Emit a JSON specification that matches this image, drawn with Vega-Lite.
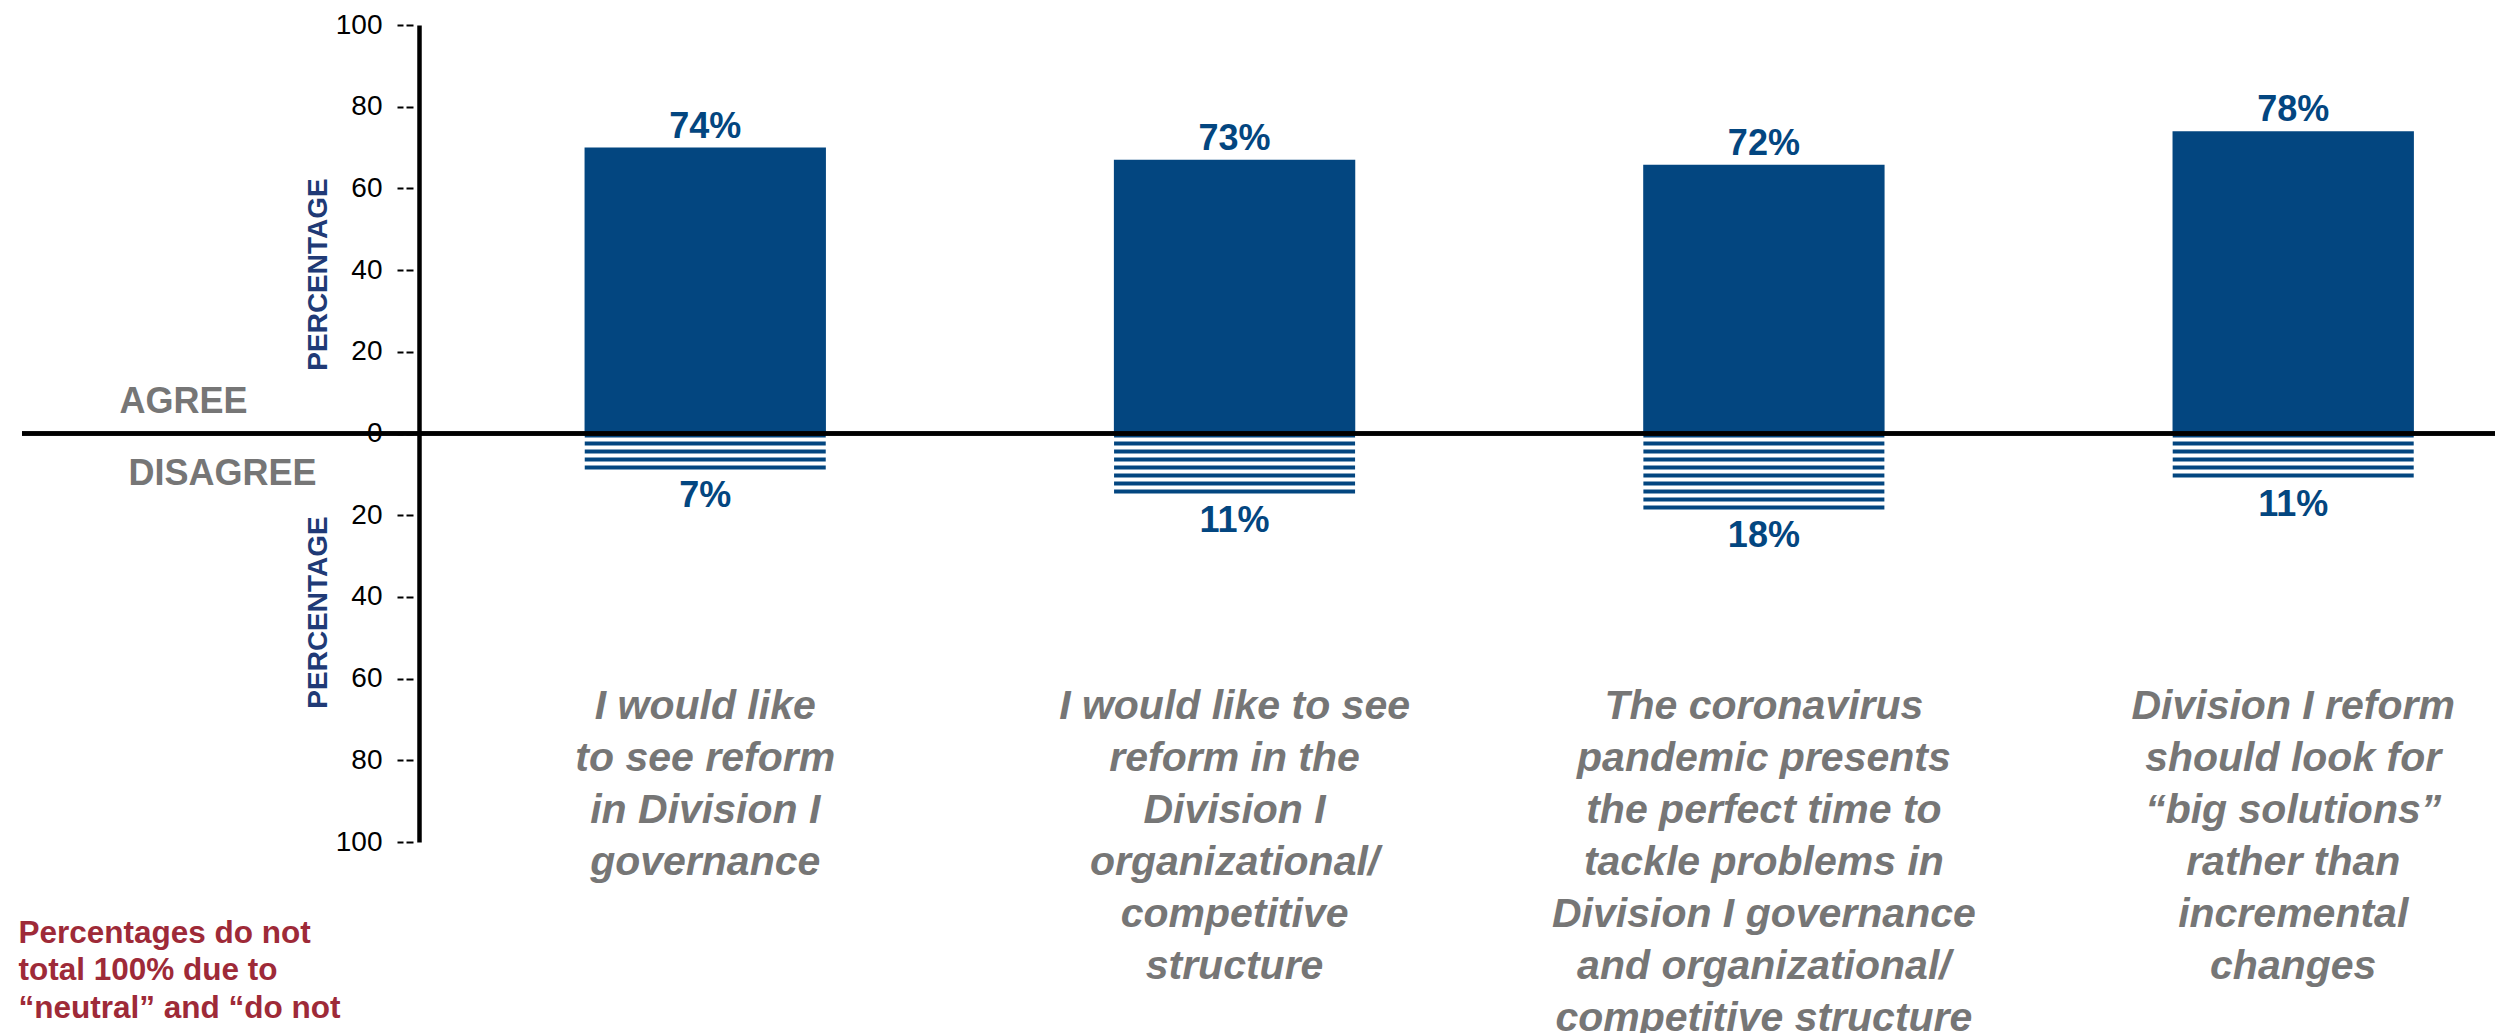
{
  "$schema": "https://vega.github.io/schema/vega-lite/v6.json",
  "width": 2473,
  "height": 817,
  "autosize": {"type": "none"},
  "padding": {"left": 22, "top": 25, "right": 0, "bottom": 191},
  "config": {"font": "Liberation Sans", "view": {"stroke": null}},
  "data": {
    "values": [
      {"cat": "I would like|to see reform|in Division I|governance", "agree": 70, "agree_label": "74%", "disagree": -8.8, "disagree_label": "7%"},
      {"cat": "I would like to see|reform in the|Division I|organizational/|competitive|structure", "agree": 67, "agree_label": "73%", "disagree": -14.7, "disagree_label": "11%"},
      {"cat": "The coronavirus|pandemic presents|the perfect time to|tackle problems in|Division I governance|and organizational/|competitive structure", "agree": 65.8, "agree_label": "72%", "disagree": -18.6, "disagree_label": "18%"},
      {"cat": "Division I reform|should look for|“big solutions”|rather than|incremental|changes", "agree": 74, "agree_label": "78%", "disagree": -10.8, "disagree_label": "11%"}
    ]
  },
  "layer": [
    {
      "mark": {"type": "bar", "color": "#034680"},
      "encoding": {
        "x": {"field": "cat", "type": "nominal", "sort": null,
          "scale": {"paddingInner": 0.544, "paddingOuter": 0.608, "align": 0.874},
          "axis": {"orient": "bottom", "offset": -124, "title": null, "domain": false, "ticks": false, "tickSize": 0, "labelPadding": 0, "labelAngle": 0, "labelAlign": "center", "labelBaseline": "alphabetic", "labelExpr": "split(datum.label, '|')", "labelFontSize": 41, "labelFontWeight": "bold", "labelFontStyle": "italic", "labelColor": "#767676", "labelLineHeight": 52, "labelLimit": 800, "labelOverlap": false, "grid": false}},
        "y": {"field": "agree", "type": "quantitative", "scale": {"domain": [-100, 100], "nice": false},
          "axis": {"orient": "left", "offset": -397, "values": [-100, -80, -60, -40, -20, 0, 20, 40, 60, 80, 100], "labelExpr": "format(abs(datum.value), 'd')", "labelFontSize": 28, "labelColor": "#000000", "labelPadding": 15, "labelFlush": false, "labelOverlap": false, "tickSize": 22, "tickDash": [0, 6, 7, 3, 6, 0], "tickWidth": 2, "tickColor": "#000000", "domainColor": "#000000", "domainWidth": 4.5, "grid": false, "title": "PERCENTAGE", "titleFontSize": 28, "titleFontWeight": "bold", "titleColor": "#203A76", "titleAngle": 270, "titleAlign": "center", "titleBaseline": "middle", "titleX": -101, "titleY": 249, "titleLimit": 1000, "zindex": 1}}
      }
    },
    {
      "mark": {"type": "rule", "color": "#034680", "strokeWidth": 241, "strokeDash": [4, 4], "strokeCap": "butt"},
      "encoding": {
        "x": {"field": "cat", "type": "nominal", "sort": null,
          "scale": {"paddingInner": 0.544, "paddingOuter": 0.608, "align": 0.874},
          "axis": {"orient": "bottom", "offset": -124, "title": null, "domain": false, "ticks": false, "tickSize": 0, "labelPadding": 0, "labelAngle": 0, "labelAlign": "center", "labelBaseline": "alphabetic", "labelExpr": "split(datum.label, '|')", "labelFontSize": 41, "labelFontWeight": "bold", "labelFontStyle": "italic", "labelColor": "#767676", "labelLineHeight": 52, "labelLimit": 800, "labelOverlap": false, "grid": false}},
        "y": {"field": "disagree", "type": "quantitative",
          "axis": {"orient": "left", "offset": -397, "domain": false, "ticks": false, "labels": false, "grid": false, "title": "PERCENTAGE", "titleFontSize": 28, "titleFontWeight": "bold", "titleColor": "#203A76", "titleAngle": 270, "titleAlign": "center", "titleBaseline": "middle", "titleX": -101, "titleY": 587, "titleLimit": 1000}},
        "y2": {"datum": 0}
      }
    },
    {
      "mark": {"type": "text", "dy": -10, "baseline": "alphabetic", "align": "center", "fontSize": 36, "fontWeight": "bold", "color": "#034680"},
      "encoding": {
        "x": {"field": "cat", "type": "nominal", "sort": null,
          "scale": {"paddingInner": 0.544, "paddingOuter": 0.608, "align": 0.874},
          "axis": {"orient": "bottom", "offset": -124, "title": null, "domain": false, "ticks": false, "tickSize": 0, "labelPadding": 0, "labelAngle": 0, "labelAlign": "center", "labelBaseline": "alphabetic", "labelExpr": "split(datum.label, '|')", "labelFontSize": 41, "labelFontWeight": "bold", "labelFontStyle": "italic", "labelColor": "#767676", "labelLineHeight": 52, "labelLimit": 800, "labelOverlap": false, "grid": false}},
        "y": {"field": "agree", "type": "quantitative",
          "axis": {"orient": "left", "offset": -397, "domain": false, "ticks": false, "labels": false, "grid": false, "title": "AGREE", "titleFontSize": 36, "titleFontWeight": "bold", "titleColor": "#767676", "titleAngle": 0, "titleAlign": "center", "titleBaseline": "alphabetic", "titleX": -236, "titleY": 387, "titleLimit": 1000}},
        "text": {"field": "agree_label", "type": "nominal"}
      }
    },
    {
      "mark": {"type": "text", "dy": 38, "baseline": "alphabetic", "align": "center", "fontSize": 36, "fontWeight": "bold", "color": "#034680"},
      "encoding": {
        "x": {"field": "cat", "type": "nominal", "sort": null,
          "scale": {"paddingInner": 0.544, "paddingOuter": 0.608, "align": 0.874},
          "axis": {"orient": "bottom", "offset": -124, "title": null, "domain": false, "ticks": false, "tickSize": 0, "labelPadding": 0, "labelAngle": 0, "labelAlign": "center", "labelBaseline": "alphabetic", "labelExpr": "split(datum.label, '|')", "labelFontSize": 41, "labelFontWeight": "bold", "labelFontStyle": "italic", "labelColor": "#767676", "labelLineHeight": 52, "labelLimit": 800, "labelOverlap": false, "grid": false}},
        "y": {"field": "disagree", "type": "quantitative",
          "axis": {"orient": "left", "offset": -397, "domain": false, "ticks": false, "labels": false, "grid": false, "title": "DISAGREE", "titleFontSize": 36, "titleFontWeight": "bold", "titleColor": "#767676", "titleAngle": 0, "titleAlign": "center", "titleBaseline": "alphabetic", "titleX": -197, "titleY": 459, "titleLimit": 1000}},
        "text": {"field": "disagree_label", "type": "nominal"}
      }
    },
    {
      "mark": {"type": "rule", "color": "#000000", "strokeWidth": 4},
      "encoding": {
        "y": {"datum": 0, "type": "quantitative",
          "axis": {"orient": "left", "offset": -397, "domain": false, "ticks": false, "labels": false, "grid": false, "title": ["Percentages do not", "total 100% due to", "“neutral” and “do not"], "titleFontSize": 31.5, "titleFontWeight": "bold", "titleColor": "#9E2A38", "titleAngle": 0, "titleAlign": "left", "titleBaseline": "alphabetic", "titleLineHeight": 37.5, "titleX": -401, "titleY": 917, "titleLimit": 1000}}
      }
    }
  ],
  "resolve": {"axis": {"y": "independent"}}
}
